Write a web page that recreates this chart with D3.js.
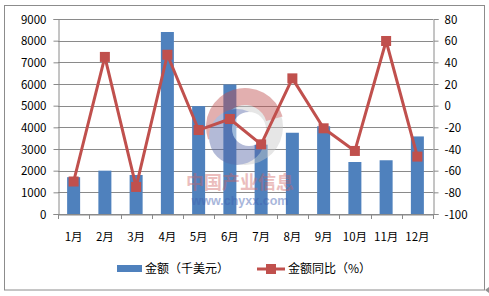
<!DOCTYPE html>
<html><head><meta charset="utf-8">
<script src="https://cdn.jsdelivr.net/npm/d3@7"></script>
<style>body{margin:0;background:#fff;} svg{display:block;font-family:"Noto Sans CJK SC","DejaVu Sans",sans-serif;}</style>
</head><body>
<script>
const months = ["1月","2月","3月","4月","5月","6月","7月","8月","9月","10月","11月","12月"];
const amount = [1700,2000,1800,8400,4980,5980,3200,3750,4050,2400,2480,3580];
const yoy = [-70,45,-75,47,-22.5,-12.3,-35.7,25.2,-20.9,-41.8,59.7,-47];
const leftTicks = [0,1000,2000,3000,4000,5000,6000,7000,8000,9000];
const rightTicks = [-100,-80,-60,-40,-20,0,20,40,60,80];
const legendLabels = ["金额（千美元）","金额同比（%）"];

const W=489,H=296;
const svg=d3.select("body").append("svg").attr("width",W).attr("height",H);
svg.append("rect").attr("x",4.5).attr("y",5.5).attr("width",480).attr("height",284.5).attr("fill","#fff").attr("stroke","#8c8c8c").attr("stroke-width",1);
svg.append("path").attr("d","M485,290 L489,287 L489,293 Z").attr("fill","#909090");

const L=58,R=433,T=19,B=214;
const xc=d3.scaleBand().domain(months).range([L,R]);
const yL=d3.scaleLinear().domain([0,9000]).range([B,T]);
const yR=d3.scaleLinear().domain([-100,80]).range([B,T]);

// gridlines
svg.append("g").selectAll("line").data(leftTicks).join("line")
 .attr("x1",L).attr("x2",R).attr("y1",d=>Math.round(yL(d))+0.5).attr("y2",d=>Math.round(yL(d))+0.5)
 .attr("stroke","#8a8a8a").attr("stroke-width",1);

// bars
svg.append("g").selectAll("rect").data(amount).join("rect")
 .attr("x",(d,i)=>xc(months[i])+xc.bandwidth()/2-6.5).attr("width",13)
 .attr("y",d=>yL(d)).attr("height",d=>B-yL(d)).attr("fill","#4F81BD");

// axes
const fmt = d=>String(d);
const gl=svg.append("g").attr("transform",`translate(${L+0.5},0)`).call(d3.axisLeft(yL).tickValues(leftTicks).tickSize(5).tickPadding(7).tickFormat(fmt));
const gr=svg.append("g").attr("transform",`translate(${R+0.5},0)`).call(d3.axisRight(yR).tickValues(rightTicks).tickSize(5).tickPadding(6).tickFormat(fmt));
const gx=svg.append("g").attr("transform",`translate(0,${B+0.5})`).call(d3.axisBottom(xc).tickSize(0).tickPadding(18));
[gl,gr,gx].forEach(g=>{g.selectAll("path,line").attr("stroke","#8a8a8a");g.selectAll("text").attr("fill","#000").attr("font-size",11.5).attr("font-family",'"Noto Sans CJK SC","DejaVu Sans",sans-serif');});
gl.selectAll("text").attr("dy","0.35em");gr.selectAll("text").attr("dy","0.35em");
// category boundary ticks
svg.append("g").selectAll("line").data(d3.range(13)).join("line")
 .attr("x1",i=>Math.round(L+i*xc.step())+0.5).attr("x2",i=>Math.round(L+i*xc.step())+0.5)
 .attr("y1",B).attr("y2",B+5).attr("stroke","#8a8a8a");

// watermark
const wm=svg.append("g").attr("opacity",0.45);
const cx=245,cy=127;
wm.append("circle").attr("cx",cx).attr("cy",cy).attr("r",38).attr("fill","#c8c8c8");
wm.append("path").attr("d",d3.arc()({innerRadius:22,outerRadius:39,startAngle:-1.9,endAngle:1.3})).attr("transform",`translate(${cx},${cy})`).attr("fill","#c05050");
wm.append("circle").attr("cx",cx-8).attr("cy",cy+10).attr("r",28).attr("fill","#5868a8");
wm.append("circle").attr("cx",cx+4).attr("cy",cy+2).attr("r",17).attr("fill","#ffffff");
wm.append("text").attr("x",240).attr("y",189).attr("text-anchor","middle").attr("font-size",18).attr("font-weight","bold").attr("fill","#d06060").attr("opacity",0.9).text("中国产业信息");
wm.append("text").attr("x",240).attr("y",205).attr("text-anchor","middle").attr("font-size",12.5).attr("font-weight","bold").attr("font-family","Liberation Sans, Arial, sans-serif").attr("fill","#4060b0").text("www.chyxx.com");

// line
const line=d3.line().x((d,i)=>xc(months[i])+xc.bandwidth()/2).y(d=>yR(d));
svg.append("path").datum(yoy).attr("d",line).attr("fill","none").attr("stroke","#C0504D").attr("stroke-width",3).attr("stroke-linejoin","round");
svg.append("g").selectAll("rect").data(yoy).join("rect")
 .attr("x",(d,i)=>xc(months[i])+xc.bandwidth()/2-5).attr("y",d=>yR(d)-5).attr("width",10).attr("height",10).attr("fill","#C0504D");

// legend
const lg=svg.append("g");
lg.append("rect").attr("x",117).attr("y",265).attr("width",25).attr("height",7).attr("fill","#4F81BD");
lg.append("text").attr("x",145).attr("y",273).attr("font-size",12).text(legendLabels[0]);
lg.append("line").attr("x1",257).attr("x2",285).attr("y1",269).attr("y2",269).attr("stroke","#C0504D").attr("stroke-width",3);
lg.append("rect").attr("x",266).attr("y",264).attr("width",10).attr("height",10).attr("fill","#C0504D");
lg.append("text").attr("x",288).attr("y",273).attr("font-size",12).text(legendLabels[1]);
</script>
</body></html>
